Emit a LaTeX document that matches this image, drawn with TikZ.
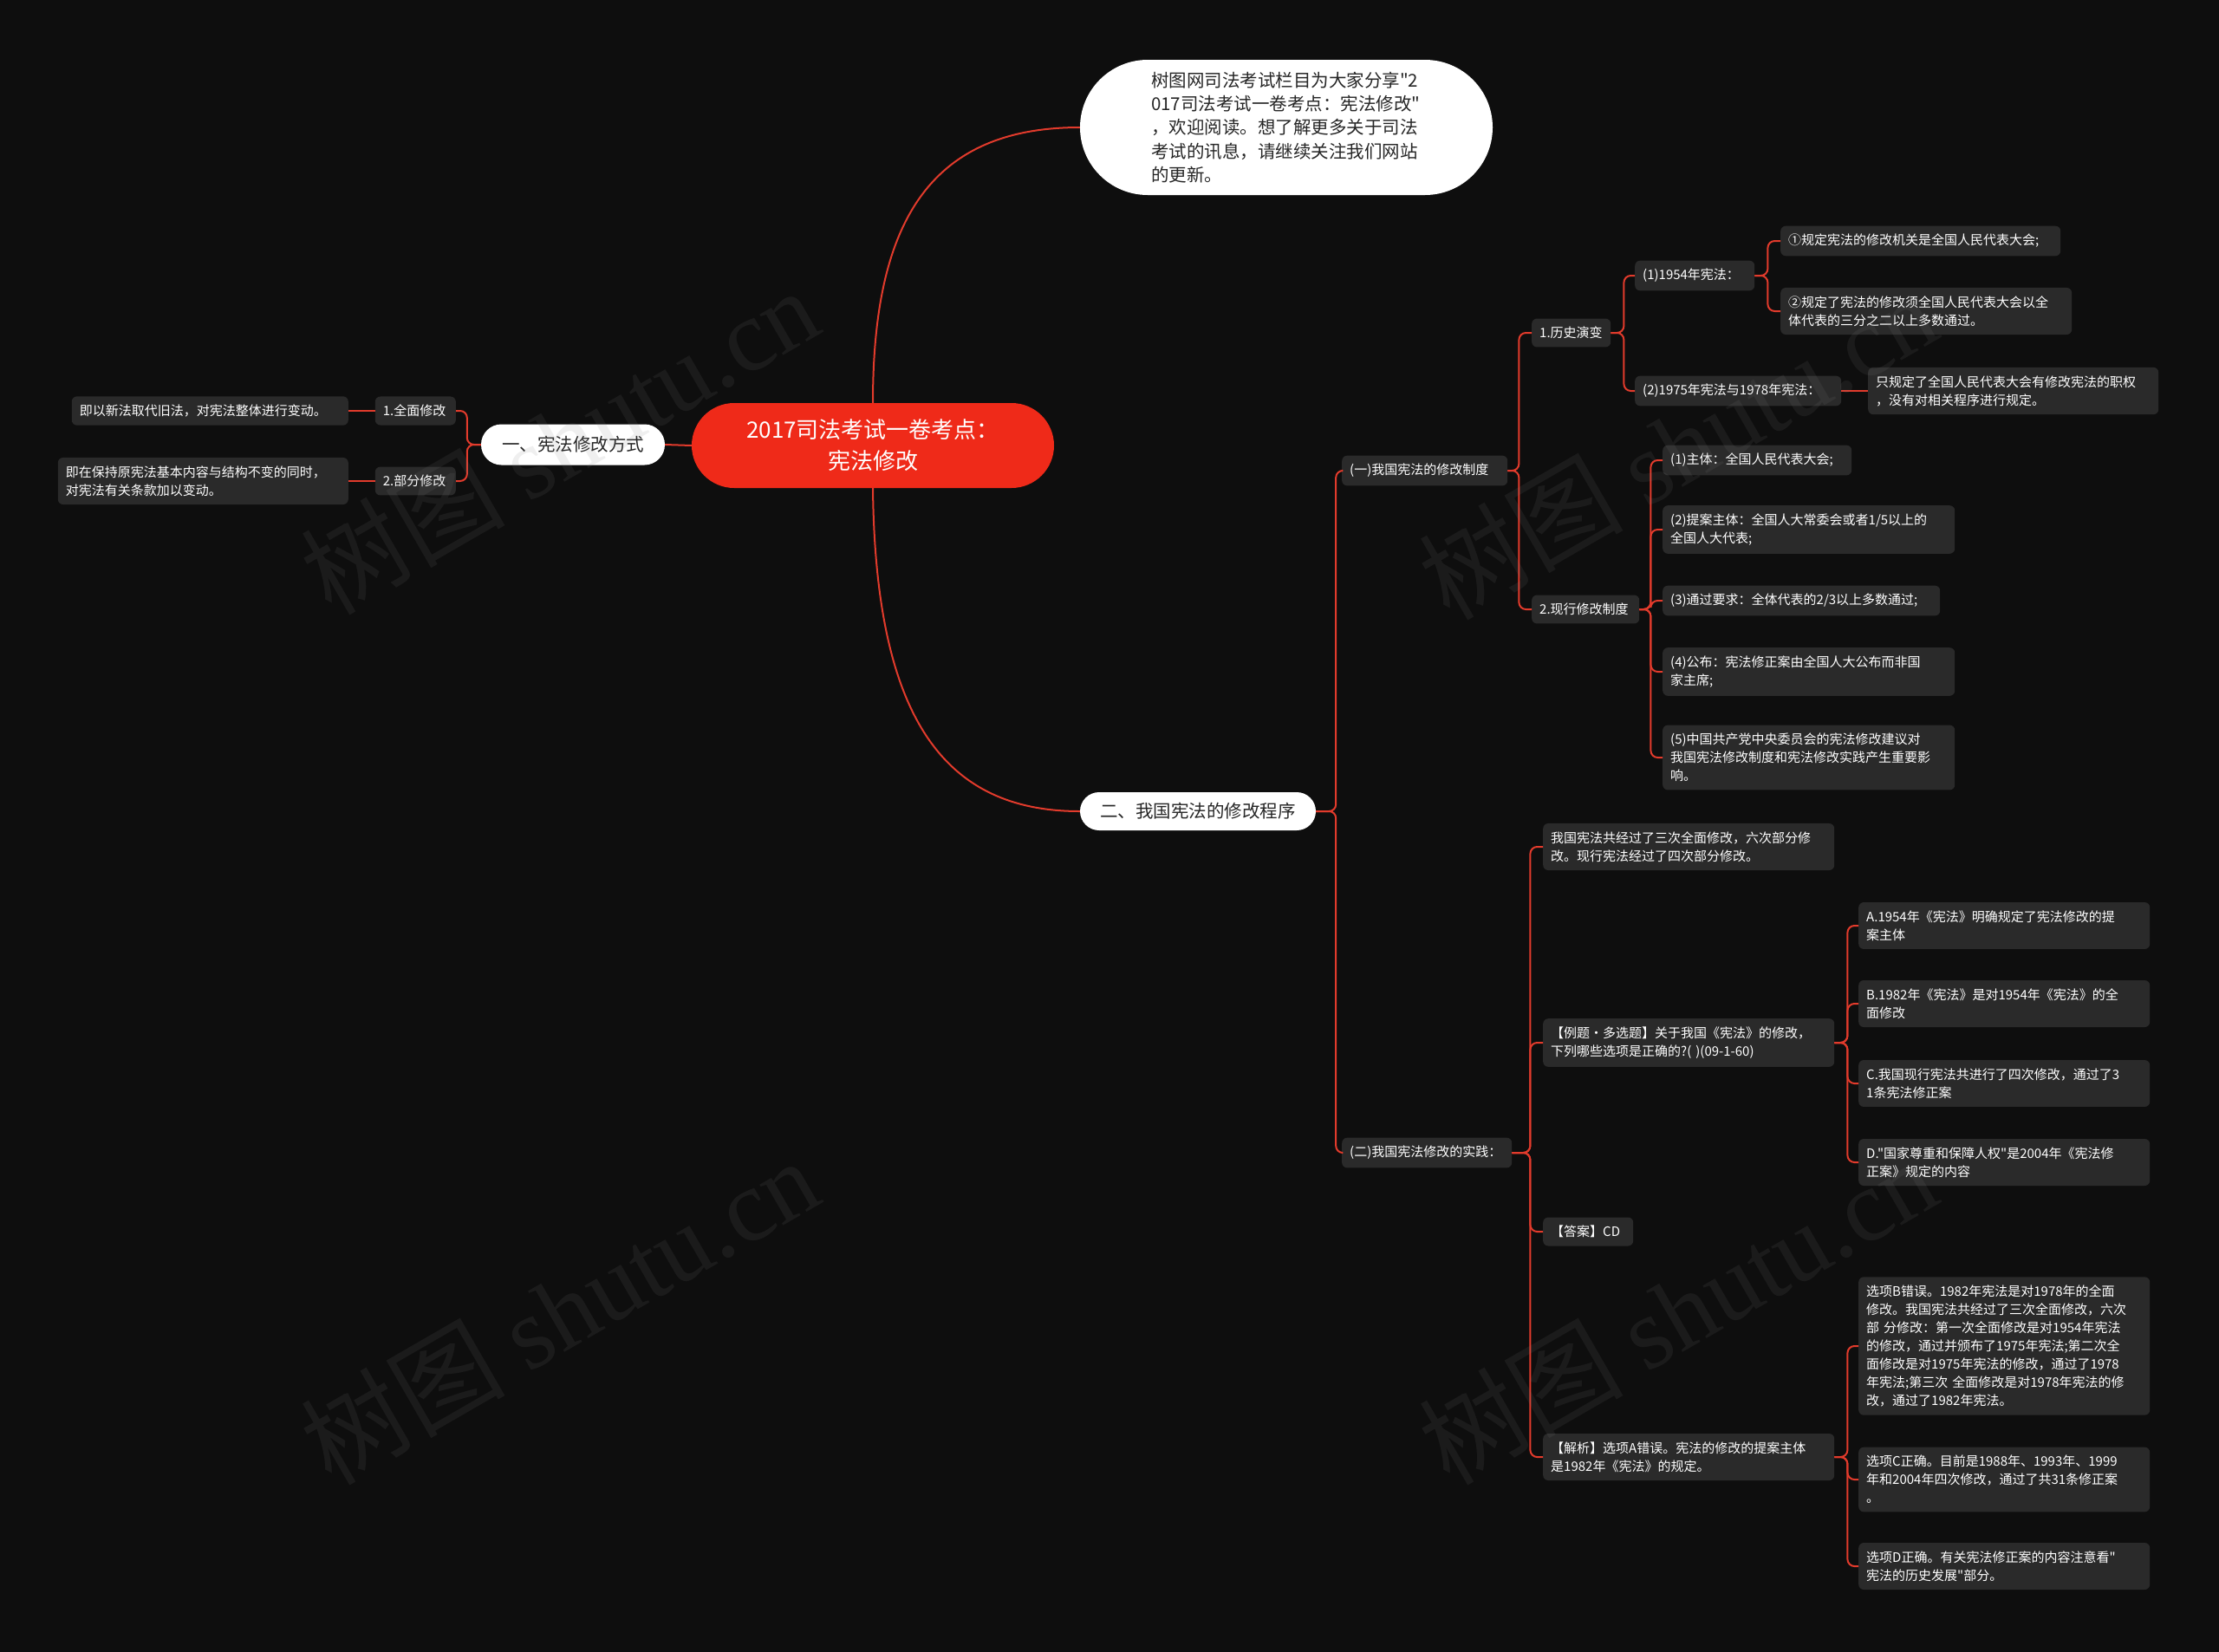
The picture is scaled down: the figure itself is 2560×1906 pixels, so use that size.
\documentclass[tikz,border=0pt]{standalone}
\usepackage{fontspec}
\newfontfamily\cjk{Noto Sans CJK SC}
\newfontfamily\wmserif{Liberation Serif}
\definecolor{bg}{HTML}{0E0E0E}
\definecolor{nd}{HTML}{2A2A2A}
\definecolor{ln}{HTML}{E23B2C}
\definecolor{rt}{HTML}{EF2A19}
\definecolor{wmk}{HTML}{808080}
\begin{document}
\begin{tikzpicture}[x=1pt,y=-1pt,
  box/.style={fill=nd, rounded corners=6pt, text=white, font=\cjk\fontsize{15}{21}\selectfont, inner xsep=9pt, inner ysep=9.5pt, align=left},
  bw/.style={box, anchor=west, text width=#1},
  be/.style={box, anchor=east, text width=#1},
  pillw/.style={fill=white, text=black!85, font=\cjk\fontsize{20.5}{28}\selectfont, inner sep=0pt, align=center},
  edge/.style={draw=ln, line width=2pt, rounded corners=8pt},
  mainln/.style={draw=ln, line width=2pt},
  wm/.style={text=wmk, text opacity=0.12, font=\cjk\fontsize{118}{120}\selectfont, rotate=30, inner sep=0pt}
]
\fill[bg] (0,0) rectangle (2560,1906);
\useasboundingbox (0,0) rectangle (2560,1906);

% root and main branches
\node[fill=rt, text=white, rounded corners=49pt, minimum width=418pt, minimum height=98pt, inner sep=0pt, align=center, font=\cjk\fontsize{26}{36}\selectfont] (root) at (1007,514) {2017司法考试一卷考点：\\宪法修改};
\node[pillw, rounded corners=78pt, minimum width=476pt, minimum height=156pt] (intro) at (1484,147) {\begin{minipage}{312pt}\cjk\fontsize{20.5}{27.3}\selectfont
树图网司法考试栏目为大家分享"2\\
017司法考试一卷考点：宪法修改"\\
，欢迎阅读。想了解更多关于司法\\
考试的讯息，请继续关注我们网站\\
的更新。\end{minipage}};
\node[pillw, rounded corners=23.5pt, minimum width=212pt, minimum height=47pt] (l1) at (661,513) {一、宪法修改方式};
\node[pillw, rounded corners=22pt, minimum width=272pt, minimum height=44pt] (r2) at (1382,936) {二、我国宪法的修改程序};

% left branch
\node[be=75pt] (n1a) at (526,474) {1.全面修改};
\node[be=75pt] (n1b) at (526,555) {2.部分修改};
\node[be=301pt] (n1a1) at (402,474) {即以新法取代旧法，对宪法整体进行变动。};
\node[be=317pt] (n1b1) at (402,555) {即在保持原宪法基本内容与结构不变的同时，\\对宪法有关条款加以变动。};

% right: (一)
\node[bw=173pt] (a) at (1548,543) {(一)我国宪法的修改制度};
\node[bw=73pt] (b) at (1767,384) {1.历史演变};
\node[bw=120pt] (b1) at (1886,318) {(1)1954年宪法：};
\node[bw=305pt] (b1a) at (2054,278) {①规定宪法的修改机关是全国人民代表大会;};
\node[bw=318pt] (b1b) at (2054,359) {②规定了宪法的修改须全国人民代表大会以全\\体代表的三分之二以上多数通过。};
\node[bw=220pt] (b2) at (1886,451) {(2)1975年宪法与1978年宪法：};
\node[bw=317pt] (b2a) at (2155,451) {只规定了全国人民代表大会有修改宪法的职权\\，没有对相关程序进行规定。};
\node[bw=106pt] (c) at (1767,703) {2.现行修改制度};
\node[bw=200pt] (c1) at (1918,531) {(1)主体：全国人民代表大会;};
\node[bw=319pt] (c2) at (1918,611) {(2)提案主体：全国人大常委会或者1/5以上的\\全国人大代表;};
\node[bw=302pt] (c3) at (1918,693) {(3)通过要求：全体代表的2/3以上多数通过;};
\node[bw=319pt] (c4) at (1918,775) {(4)公布：宪法修正案由全国人大公布而非国\\家主席;};
\node[bw=319pt] (c5) at (1918,874) {(5)中国共产党中央委员会的宪法修改建议对\\我国宪法修改制度和宪法修改实践产生重要影\\响。};

% right: (二)
\node[bw=178pt] (d) at (1548,1330) {(二)我国宪法修改的实践：};
\node[bw=318pt] (d1) at (1780,977) {我国宪法共经过了三次全面修改，六次部分修\\改。现行宪法经过了四次部分修改。};
\node[bw=318pt] (d2) at (1780,1203) {【例题·多选题】关于我国《宪法》的修改，\\下列哪些选项是正确的?( )(09-1-60)};
\node[bw=318pt] (d2a) at (2144,1068) {A.1954年《宪法》明确规定了宪法修改的提\\案主体};
\node[bw=318pt] (d2b) at (2144,1158) {B.1982年《宪法》是对1954年《宪法》的全\\面修改};
\node[bw=318pt] (d2c) at (2144,1250) {C.我国现行宪法共进行了四次修改，通过了3\\1条宪法修正案};
\node[bw=318pt] (d2d) at (2144,1341) {D."国家尊重和保障人权"是2004年《宪法修\\正案》规定的内容};
\node[bw=86pt] (d3) at (1780,1421) {【答案】CD};
\node[bw=318pt] (d4) at (1780,1681) {【解析】选项A错误。宪法的修改的提案主体\\是1982年《宪法》的规定。};
\node[bw=318pt] (d4a) at (2144,1553) {选项B错误。1982年宪法是对1978年的全面\\修改。我国宪法共经过了三次全面修改，六次\\部 分修改：第一次全面修改是对1954年宪法\\的修改，通过并颁布了1975年宪法;第二次全\\面修改是对1975年宪法的修改，通过了1978\\年宪法;第三次 全面修改是对1978年宪法的修\\改，通过了1982年宪法。};
\node[bw=318pt] (d4b) at (2144,1707) {选项C正确。目前是1988年、1993年、1999\\年和2004年四次修改，通过了共31条修正案\\。};
\node[bw=318pt] (d4c) at (2144,1807) {选项D正确。有关宪法修正案的内容注意看"\\宪法的历史发展"部分。};

% connectors
\draw[mainln] (root.north) .. controls (1007,260) and (1070,147) .. (intro.west);
\draw[mainln] (root.south) .. controls (1010,830) and (1090,936) .. (r2.west);
\draw[mainln] (root.west) -- (l1.east);

\draw[edge] (l1.west) -- ++(-16,0) |- (n1a.east);
\draw[edge] (l1.west) -- ++(-16,0) |- (n1b.east);
\draw[mainln] (n1a.west) -- (n1a1.east);
\draw[mainln] (n1b.west) -- (n1b1.east);

\draw[edge] (r2.east) -- ++(23,0) |- (a.west);
\draw[edge] (r2.east) -- ++(23,0) |- (d.west);

\draw[edge] (a.east) -- ++(13,0) |- (b.west);
\draw[edge] (a.east) -- ++(13,0) |- (c.west);
\draw[edge] (b.east) -- ++(15,0) |- (b1.west);
\draw[edge] (b.east) -- ++(15,0) |- (b2.west);
\draw[edge] (b1.east) -- ++(15,0) |- (b1a.west);
\draw[edge] (b1.east) -- ++(15,0) |- (b1b.west);
\draw[mainln] (b2.east) -- (b2a.west);
\foreach \k in {c1,c2,c3,c4,c5} \draw[edge] (c.east) -- ++(13,0) |- (\k.west);

\foreach \k in {d1,d2,d3,d4} \draw[edge] (d.east) -- ++(21,0) |- (\k.west);
\foreach \k in {d2a,d2b,d2c,d2d} \draw[edge] (d2.east) -- ++(15,0) |- (\k.west);
\foreach \k in {d4a,d4b,d4c} \draw[edge] (d4.east) -- ++(15,0) |- (\k.west);

% watermarks (faint, on top)
\node[wm] (w1) at (645,508) {树图 {\wmserif shutu.cn}};
\node[wm] (w2) at (1935,514) {树图 {\wmserif shutu.cn}};
\node[wm] (w3) at (645,1512) {树图 {\wmserif shutu.cn}};
\node[wm] (w4) at (1935,1512) {树图 {\wmserif shutu.cn}};
\end{tikzpicture}
\end{document}
